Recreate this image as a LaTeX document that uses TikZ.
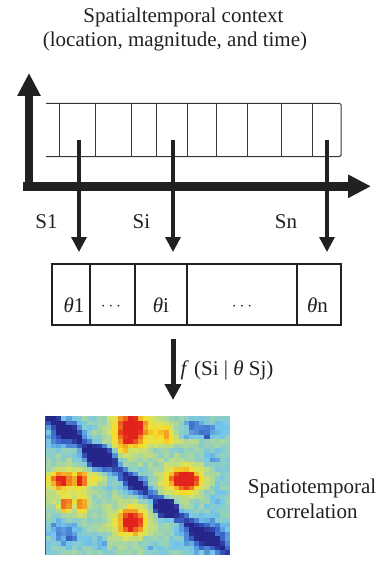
\documentclass[tikz,border=0pt]{standalone}
\usepackage{fontspec}
\setmainfont{Liberation Serif}
\usetikzlibrary{arrows.meta,calc}

\definecolor{ink}{RGB}{35,32,33}

% piecewise-linear "jet"-like colour map: sets colour hmc from a value in [0,1]
\newcommand\hmseg[8]{%
  \pgfmathsetmacro\hmt{(\hmv-#1)/(#2-#1)}%
  \pgfmathtruncatemacro\hmR{#3+(#6-#3)*\hmt}%
  \pgfmathtruncatemacro\hmG{#4+(#7-#4)*\hmt}%
  \pgfmathtruncatemacro\hmB{#5+(#8-#5)*\hmt}%
}
\newcommand\hmcolor[1]{%
  \pgfmathsetmacro\hmv{max(0,min(0.999,#1))}%
  \ifdim\hmv pt<0.15pt \hmseg{0}{0.15}{38}{38}{138}{58}{100}{202}%
  \else\ifdim\hmv pt<0.3pt \hmseg{0.15}{0.3}{58}{100}{202}{115}{198}{235}%
  \else\ifdim\hmv pt<0.45pt \hmseg{0.3}{0.45}{115}{198}{235}{172}{216}{158}%
  \else\ifdim\hmv pt<0.6pt \hmseg{0.45}{0.6}{172}{216}{158}{222}{228}{85}%
  \else\ifdim\hmv pt<0.72pt \hmseg{0.6}{0.72}{222}{228}{85}{248}{220}{42}%
  \else\ifdim\hmv pt<0.85pt \hmseg{0.72}{0.85}{248}{220}{42}{242}{128}{32}%
  \else \hmseg{0.85}{1}{242}{128}{32}{225}{35}{28}%
  \fi\fi\fi\fi\fi\fi
  \definecolor{hmc}{RGB}{\hmR,\hmG,\hmB}%
}

\tikzset{
  lbl/.style={font=\fontsize{21}{25}\selectfont, text=ink, inner sep=0pt, anchor=base},
  dotslbl/.style={font=\fontsize{18}{22}\selectfont, text=ink, inner sep=0pt, anchor=base},
  axisarrow/.style={line width=8.5pt, draw=ink, -{Triangle[length=23pt,width=22pt]}},
  gridline/.style={line width=1pt, draw=ink!90},
  droparrow/.style={line width=3.3pt, draw=ink, -{Triangle[length=15pt,width=15pt]}},
  bigarrow/.style={line width=5pt, draw=ink, -{Triangle[length=16pt,width=16pt]}},
  cell/.style={draw=ink, line width=1.1pt, minimum height=61pt, inner sep=0pt},
}

\begin{document}
\begin{tikzpicture}[x=1pt,y=-1pt,
  declare function={
    rsq(\qx,\qy,\qa,\qb,\qc,\qd)=((\qx-\qa)/\qc)^2+((\qy-\qb)/\qd)^2;
    gs(\qx,\qy,\qa,\qb,\qc,\qd)=exp(-min(9,rsq(\qx,\qy,\qa,\qb,\qc,\qd)));
    gf(\qx,\qy,\qa,\qb,\qc,\qd)=exp(-(min(3,rsq(\qx,\qy,\qa,\qb,\qc,\qd)))^2);
  }]
\useasboundingbox (0,0) rectangle (380,561);

% title
\node[lbl] (title1) at (183.5,23) {Spatialtemporal context};
\node[lbl] (title2) at (175,47) {(location, magnitude, and time)};

% axes
\coordinate (yfoot) at (29,190.6);
\coordinate (ytip) at (29,73);
\coordinate (xfoot) at (23.3,186.3);
\coordinate (xtip) at (371,186.3);
\draw[axisarrow] (yfoot) -- (ytip);
\draw[axisarrow] (xfoot) -- (xtip);

% open strip of time slots
\draw[gridline, rounded corners=1.5pt] (46,103.3) -- (341,103.3) -- (341,156.7) -- (46,156.7);
\foreach \sx in {59,95,131,156,187.3,216.3,247.3,281,312.3}
  \draw[gridline] (\sx,103.3) -- (\sx,156.7);

% sampled slots
\coordinate (p1) at (79,140);   \coordinate (q1) at (79,252);
\coordinate (pi) at (173,140);  \coordinate (qi) at (173,252);
\coordinate (pn) at (327,140);  \coordinate (qn) at (327,252);
\draw[droparrow] (p1) -- (q1);
\draw[droparrow] (pi) -- (qi);
\draw[droparrow] (pn) -- (qn);
\node[lbl] (s1) at (46.5,228) {S1};
\node[lbl] (si) at (141.5,228) {Si};
\node[lbl] (sn) at (286,228) {Sn};

% parameter cells
\node[cell, minimum width=38pt] (c1) at (71,294.5) {};
\node[cell, minimum width=45pt] (c2) at (112.5,294.5) {};
\node[cell, minimum width=52pt] (c3) at (161,294.5) {};
\node[cell, minimum width=110pt] (c4) at (242,294.5) {};
\node[cell, minimum width=44pt] (c5) at (319,294.5) {};
\node[lbl] (t1) at (74,312) {\textit{θ}1};
\node[dotslbl] (t2) at (111,310) {$\cdots$};
\node[lbl] (t3) at (161,312) {\textit{θ}i};
\node[dotslbl] (t4) at (242,310) {$\cdots$};
\node[lbl] (t5) at (317.5,312) {\textit{θ}n};

% mapping arrow
\coordinate (r0) at (173,339);
\coordinate (r1) at (173,400);
\draw[bigarrow] (r0) -- (r1);
\node[lbl] (fmap) at (227,375) {\textit{f} (Si | \textit{θ} Sj)};

% correlation heat map
\node[minimum width=184pt, minimum height=139pt, inner sep=0pt] (hm) at (138,485.5) {};
\begin{scope}
\clip (46,416) rectangle (230,555);
\pgfmathsetseed{11}
\foreach \i in {0,...,35}{
  \foreach \j in {0,...,29}{
    \pgfmathsetmacro\hx{46+5.111*(\i+0.5)}
    \pgfmathsetmacro\hy{416+4.633*(\j+0.5)}
    \pgfmathsetmacro\hu{(\hx-46)/184-(\hy-416)/139}
    % background, diagonal and blue blocks
    \pgfmathsetmacro\hblue{0.40+0.13*(rnd-0.5)
      -0.30*exp(-min(9,(\hu/0.06)^2))
      -0.40*gs(\hx,\hy,68,431,15,10)
      -0.35*gs(\hx,\hy,52,419,7,4)
      -0.50*gf(\hx,\hy,100,456.5,17,13)
      +0.18*gs(\hx,\hy,103,456,2,12)
      -0.25*gs(\hx,\hy,136,484,12,10)
      -0.45*gf(\hx,\hy,166,508.5,12,10)
      -0.30*gs(\hx,\hy,205,537,24,15)
      -0.12*gs(\hx,\hy,60,442,15,8)
      -0.16*gs(\hx,\hy,200,430,26,13)
      -0.15*gs(\hx,\hy,195,425,4,4)
      -0.15*gs(\hx,\hy,207,435,4,4)
      -0.18*gs(\hx,\hy,65,533,18,15)
      -0.12*gs(\hx,\hy,55,525,4,4)
      -0.15*gs(\hx,\hy,72,538,4,4)
      -0.15*gs(\hx,\hy,100,543,8,7)
      -0.20*gs(\hx,\hy,108,489,4,4)
      -0.12*gs(\hx,\hy,150,545,10,8)
      -0.12*gs(\hx,\hy,215,460,10,10)
      -0.08*gs(\hx,\hy,215,495,16,30)}
    % warm patches
    \pgfmathsetmacro\hmval{\hblue
      +0.68*gs(\hx,\hy,131,429,15,16)
      +0.18*gs(\hx,\hy,131,429,22,24)
      +0.35*gs(\hx,\hy,163,432,14,10)
      +0.20*gs(\hx,\hy,168,438,8,5)
      +0.30*gs(\hx,\hy,175,443.5,70,2)
      +0.20*gs(\hx,\hy,122,450,6,6)
      +0.68*gs(\hx,\hy,62,480,14,9)
      +0.62*gs(\hx,\hy,81,480,5,9)
      +0.28*gs(\hx,\hy,95,478,9,7)
      +0.64*gs(\hx,\hy,185,480,15,11)
      +0.22*gs(\hx,\hy,185,480,26,17)
      +0.64*gs(\hx,\hy,131,522,12,12)
      +0.22*gs(\hx,\hy,131,522,21,19)
      +0.42*gs(\hx,\hy,66,506,4,8)
      +0.42*gs(\hx,\hy,82,505,4,9)
      +0.22*gs(\hx,\hy,70,503,18,12)}
    \hmcolor{\hmval}
    \fill[hmc] ({46+5.111*\i},{416+4.633*\j}) rectangle ++(5.3,4.8);
  }
}
\end{scope}
\draw[ink!80, line width=0.8pt] (hm.north west) -- (hm.south west);

\node[lbl] (corr1) at (312,493) {Spatiotemporal};
\node[lbl] (corr2) at (312,518) {correlation};
\end{tikzpicture}
\end{document}
